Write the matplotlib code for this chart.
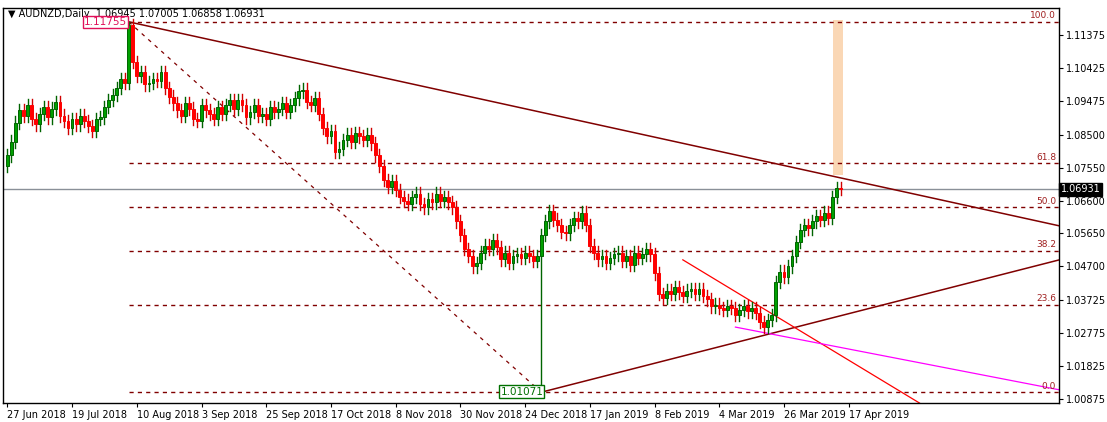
import matplotlib
matplotlib.use("Agg")
import matplotlib.pyplot as plt
from matplotlib.patches import Rectangle

closes = [1.0790, 1.0830, 1.0885, 1.0920, 1.0905, 1.0935,
          1.0895, 1.0880, 1.0910, 1.0930, 1.0900, 1.0925, 1.0945,
          1.0905, 1.0890, 1.0870, 1.0895, 1.0880, 1.0905, 1.0890, 1.0875,
          1.0860, 1.0895, 1.0900, 1.0930, 1.0950, 1.0965, 1.0985,
          1.1010, 1.1000, 1.1165, 1.1060,
          1.1020, 1.1030, 1.0995, 1.1000, 1.1010, 1.1005, 1.1030, 1.0985, 1.0960,
          1.0940, 1.0920, 1.0905, 1.0940, 1.0925, 1.0895, 1.0890, 1.0935, 1.0920, 1.0910,
          1.0895, 1.0930, 1.0910, 1.0935, 1.0950, 1.0925, 1.0950, 1.0935, 1.0900, 1.0915,
          1.0935, 1.0905, 1.0910, 1.0895, 1.0930, 1.0915, 1.0925, 1.0940, 1.0915, 1.0935, 1.0955, 1.0975,
          1.0980, 1.0945, 1.0935, 1.0955, 1.0910, 1.0870, 1.0845, 1.0860,
          1.0800, 1.0810, 1.0835, 1.0850, 1.0830, 1.0855, 1.0845, 1.0835, 1.0850, 1.0825,
          1.0790, 1.0760, 1.0720, 1.0700, 1.0715, 1.0690, 1.0670, 1.0660, 1.0650, 1.0670,
          1.0680, 1.0650, 1.0640, 1.0665, 1.0655, 1.0680, 1.0660, 1.0670, 1.0655, 1.0640,
          1.0600, 1.0560, 1.0520, 1.0500, 1.0470, 1.0480, 1.0510, 1.0530, 1.0520, 1.0545,
          1.0525, 1.0490, 1.0510, 1.0480, 1.0500, 1.0505, 1.0495, 1.0510, 1.0500, 1.0485,
          1.0500, 1.0560, 1.0600, 1.0630, 1.0605, 1.0590, 1.0570, 1.0565, 1.0590, 1.0610,
          1.0600, 1.0625, 1.0590, 1.0530, 1.0510, 1.0490, 1.0500, 1.0480, 1.0495, 1.0505,
          1.0510, 1.0485, 1.0500, 1.0475, 1.0510, 1.0495, 1.0505, 1.0520, 1.0505, 1.0450,
          1.0390, 1.0380, 1.0400, 1.0390, 1.0410, 1.0395, 1.0385, 1.0400, 1.0405, 1.0390,
          1.0405, 1.0385, 1.0375, 1.0355, 1.0360, 1.0350, 1.0345, 1.0355, 1.0350, 1.0330,
          1.0345, 1.0355, 1.0340, 1.0350, 1.0335, 1.0310, 1.0295, 1.0315, 1.0330, 1.0425,
          1.0455, 1.0440, 1.0470, 1.0500, 1.0540, 1.0575, 1.0590, 1.0580,
          1.0600, 1.0615, 1.0605, 1.0625, 1.0610, 1.0670, 1.0696, 1.06931]
first_open = 1.0760
wick_override = {30: ("high", 1.11755), 132: ("low", 1.01071)}

date_labels = ["27 Jun 2018", "19 Jul 2018", "10 Aug 2018", "3 Sep 2018", "25 Sep 2018",
               "17 Oct 2018", "8 Nov 2018", "30 Nov 2018", "24 Dec 2018", "17 Jan 2019",
               "8 Feb 2019", "4 Mar 2019", "26 Mar 2019", "17 Apr 2019"]
yticks = [1.11375, 1.10425, 1.09475, 1.08500, 1.07550, 1.06600, 1.05650,
          1.04700, 1.03725, 1.02775, 1.01825, 1.00875]

fib_low, fib_high = 1.01071, 1.11755
fib_levels = [0.0, 23.6, 38.2, 50.0, 61.8, 100.0]
peak_i, low_i = 30, 132
last_price = 1.06931

fig = plt.figure(figsize=(11.07, 4.22), dpi=100)
ax = fig.add_axes([0.003, 0.045, 0.954, 0.936])
ax.set_xlim(-1, 260.1)
ax.set_ylim(1.00760, 1.12154)

opens = [first_open] + closes[:-1]
w = 0.7
for i, (o, c) in enumerate(zip(opens, closes)):
    hi = max(o, c) + 0.0018
    lo = min(o, c) - 0.0018
    if i in wick_override:
        k, v = wick_override[i]
        if k == "high":
            hi = v
        else:
            lo = v
    up = c >= o
    edge = "#006400" if up else "#ff0000"
    face = "#00a000" if up else "#ff0000"
    ax.plot([i, i], [lo, hi], color=edge if up else "#d00000", lw=1, zorder=3)
    h = max(abs(c - o), 0.00015)
    ax.add_patch(Rectangle((i - w / 2, min(o, c)), w, h, facecolor=face,
                           edgecolor=edge, lw=0.7, zorder=4))

dr = "#800000"
for lv in fib_levels:
    p = fib_low + lv / 100 * (fib_high - fib_low)
    ax.plot([peak_i, 260.1], [p, p], color=dr, lw=1, ls=(0, (3, 3)), zorder=2)
    ax.text(259.3, p + 0.0004, f"{lv:.1f}", color="#a02020", fontsize=6.5,
            ha="right", va="bottom", zorder=5)

ax.plot([peak_i, low_i], [fib_high, fib_low], color=dr, lw=0.9, ls=(0, (3, 4)), zorder=2)
ax.plot([peak_i, 260.1], [fib_high, 1.0587], color=dr, lw=1.1, zorder=2)
ax.plot([low_i, 260.1], [fib_low, 1.0489], color=dr, lw=1.1, zorder=2)
ax.plot([167, 225.5], [1.0489, 1.0076], color="#ff0000", lw=0.9, zorder=2)
ax.plot([180, 260.1], [1.0295, 1.0114], color="#ff00ff", lw=0.9, zorder=2)
ax.add_patch(Rectangle((204.2, 1.0734), 2.4, 1.1181 - 1.0734, facecolor="#fad7b5",
                       edgecolor="none", zorder=1))
ax.axhline(last_price, color="#8a9098", lw=1, zorder=1)

ax.text(peak_i - 0.5, fib_high, "1.11755", color="#e0105a", fontsize=7.5,
        ha="right", va="center", zorder=6,
        bbox=dict(boxstyle="square,pad=0.1", fc="white", ec="#e0105a", lw=1))
ax.text(low_i + 0.5, fib_low + 0.0002, "1.01071", color="#007000", fontsize=7.5,
        ha="right", va="center", zorder=6,
        bbox=dict(boxstyle="square,pad=0.1", fc="white", ec="#007000", lw=1))

ax.text(0.004, 0.997, "\u25bc AUDNZD,Daily  1.06945 1.07005 1.06858 1.06931",
        transform=ax.transAxes, fontsize=7, va="top", ha="left", color="black")

ax.yaxis.tick_right()
ax.set_yticks(yticks)
ax.set_yticklabels([f"{v:.5f}" for v in yticks], fontsize=7)
ax.set_xticks([16 * k for k in range(len(date_labels))])
ax.set_xticklabels(date_labels, fontsize=7, ha="left")
ax.tick_params(axis="both", length=3, pad=2)
for s in ax.spines.values():
    s.set_color("black")
    s.set_linewidth(1)
ax.text(1.001, last_price, f"{last_price:.5f}", transform=ax.get_yaxis_transform(),
        color="white", fontsize=7, va="center", ha="left",
        bbox=dict(boxstyle="square,pad=0.15", fc="black", ec="black"), zorder=7)

fig.savefig("out.png", dpi=100)
